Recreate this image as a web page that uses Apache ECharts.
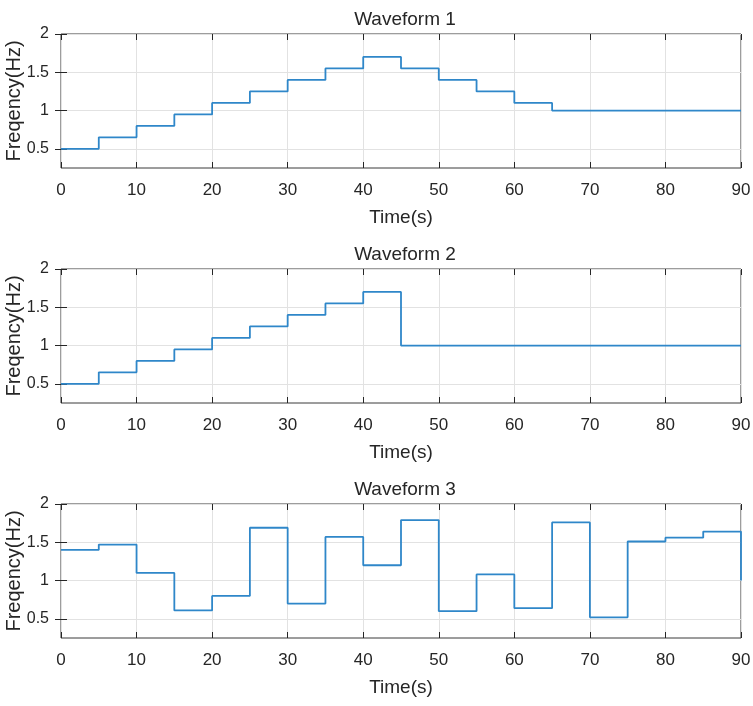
<!DOCTYPE html>
<html>
<head>
<meta charset="utf-8">
<script src="https://cdn.jsdelivr.net/npm/echarts@6/dist/echarts.min.js"></script>
<style>
html,body{margin:0;padding:0;background:#fff;}
#chart{width:753px;height:706px;}
</style>
</head>
<body>
<div id="chart"></div>
<script>
// ---- data ----
var times = [0,5,10,15,20,25,30,35,40,45,50,55,60,65,70,75,80,85,90];
var wave1 = [0.5,0.65,0.8,0.95,1.1,1.25,1.4,1.55,1.7,1.55,1.4,1.25,1.1,1.0,1.0,1.0,1.0,1.0,1.0];
var wave2 = [0.5,0.65,0.8,0.95,1.1,1.25,1.4,1.55,1.7,1.0,1.0,1.0,1.0,1.0,1.0,1.0,1.0,1.0,1.0];
var wave3 = [1.4,1.47,1.1,0.61,0.8,1.69,0.7,1.57,1.2,1.79,0.6,1.08,0.64,1.76,0.52,1.51,1.56,1.64,1.0];
var titles = ['Waveform 1','Waveform 2','Waveform 3'];
var yTicks = [0.5,1,1.5,2];
var xMin = 0, xMax = 90, xStep = 10;
var yMin = 0.25, yMax = 2;
var xName = 'Time(s)';
var yName = 'Freqency(Hz)';

var waves = [wave1, wave2, wave3];
var FONT = "'Liberation Sans',Arial,sans-serif";
var tops = [34, 269, 504];
var H = 134;
var grids = [], xAxes = [], yAxes = [], series = [], titleArr = [];
var dark = '#262626';
for (var i = 0; i < 3; i++) {
  grids.push({left: 61, right: 12, top: tops[i], height: H, show: true, containLabel: false,
    outerBoundsMode: 'none',
    borderColor: '#3a3a3a', borderWidth: 1, backgroundColor: 'transparent'});
  titleArr.push({text: titles[i], left: 400, top: tops[i] - 29, textAlign: 'center',
    textStyle: {fontFamily: FONT, fontSize: 19, fontWeight: 'normal', color: dark}});
  xAxes.push({type: 'value', gridIndex: i, min: xMin, max: xMax, interval: xStep, position: 'bottom',
    name: xName, nameLocation: 'middle', nameGap: 40, nameMoveOverlap: false,
    nameTextStyle: {fontFamily: FONT, fontSize: 19, color: dark},
    axisLine: {show: false},
    axisTick: {show: true, inside: true, length: 6, lineStyle: {color: dark}},
    axisLabel: {fontFamily: FONT, fontSize: 17, color: dark, margin: 14},
    splitLine: {show: true, lineStyle: {color: '#e2e2e2', width: 1}}});
  xAxes.push({type: 'value', gridIndex: i, min: xMin, max: xMax, interval: xStep, position: 'top',
    axisLine: {show: false},
    axisTick: {show: true, inside: true, length: 6, lineStyle: {color: dark}},
    axisLabel: {show: false}, splitLine: {show: false}});
  yAxes.push({type: 'value', gridIndex: i, min: yMin, max: yMax, position: 'left',
    name: yName, nameLocation: 'middle', nameGap: 37, nameMoveOverlap: false,
    nameTextStyle: {fontFamily: FONT, fontSize: 20, color: dark},
    axisLine: {show: false},
    axisTick: {show: true, inside: true, length: 6, customValues: yTicks, lineStyle: {color: dark}},
    axisLabel: {fontFamily: FONT, fontSize: 16, color: dark, margin: 12, customValues: yTicks},
    splitLine: {show: true, lineStyle: {color: '#e2e2e2', width: 1}}});
  yAxes.push({type: 'value', gridIndex: i, min: yMin, max: yMax, position: 'right',
    axisLine: {show: false},
    axisTick: {show: true, inside: true, length: 6, customValues: yTicks, lineStyle: {color: dark}},
    axisLabel: {show: false, customValues: yTicks}, splitLine: {show: false}});
  (function(w, idx){
    series.push({type: 'line', step: 'end', xAxisIndex: idx * 2, yAxisIndex: idx * 2,
      showSymbol: false, symbol: 'none',
      lineStyle: {color: '#2f87c9', width: 1.8},
      data: times.map(function(t, k){ return [t, w[k]]; })});
  })(waves[i], i);
}

var chart = echarts.init(document.getElementById('chart'), null, {renderer: 'canvas'});
chart.setOption({
  animation: false,
  backgroundColor: '#ffffff',
  title: titleArr,
  grid: grids,
  xAxis: xAxes,
  yAxis: yAxes,
  series: series
});
</script>
</body>
</html>
